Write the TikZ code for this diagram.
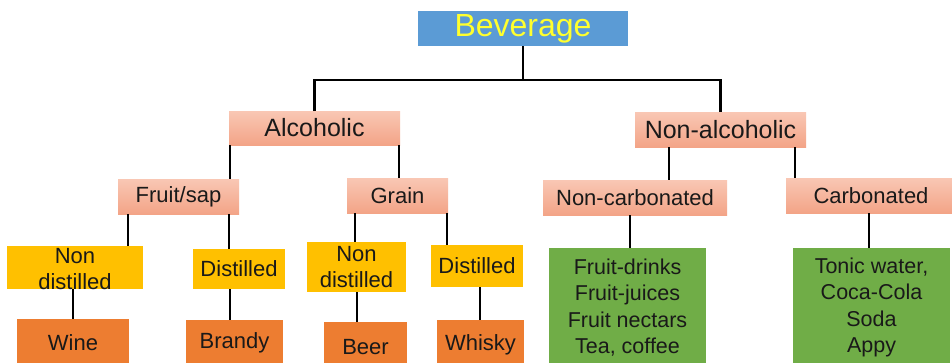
\documentclass[tikz,border=0pt]{standalone}
\usepackage{fontspec}
\setmainfont{Liberation Sans}
\usetikzlibrary{calc}
\definecolor{bevblue}{HTML}{5B9BD5}
\definecolor{bevyel}{HTML}{FFFF2E}
\definecolor{salmtop}{HTML}{F9C7B4}
\definecolor{salmbot}{HTML}{F3A487}
\definecolor{ambery}{HTML}{FFC000}
\definecolor{orng}{HTML}{ED7D31}
\definecolor{grn}{HTML}{70AD47}
\tikzset{
  boxbase/.style={draw=none, inner sep=0pt, outer sep=0pt, anchor=north west},
  bluebox/.style={boxbase, fill=bevblue},
  salmbox/.style={boxbase, top color=salmtop, bottom color=salmbot},
  yelbox/.style={boxbase, fill=ambery},
  orbox/.style={boxbase, fill=orng},
  grbox/.style={boxbase, fill=grn},
  conn/.style={line width=2.6pt, black},
  lbl/.style={inner sep=0pt, align=center, text=black!90},
}
\newcommand\bx[8]{%
  \node[#6, minimum width={(#4-#2)*1pt}, minimum height={(#5-#3)*1pt}] (#1) at (#2,#3) {};
  \node[lbl, #7] (#1-t) at (#1.center) {#8};
}
\newcommand\vcon[3]{%
  \coordinate (tmpx) at (#1,0);
  \draw[conn] (#2.south -| tmpx) -- (#3.north -| tmpx);
}
\begin{document}
\begin{tikzpicture}[x=1pt,y=-1pt]
\useasboundingbox (0,0) rectangle (952,362);
\fill[white] (0,0) rectangle (952,362);
\clip (0,0) rectangle (952,362);
% level 1
\bx{bev}{418}{11}{628}{46}{bluebox}{font=\fontsize{32}{38}\selectfont, text=bevyel}{Beverage}
% level 2
\bx{alc}{229}{111}{400}{145}{salmbox}{font=\fontsize{25}{30}\selectfont}{Alcoholic}
\bx{nonalc}{635}{112}{806}{147}{salmbox}{font=\fontsize{25}{30}\selectfont}{Non-alcoholic}
% level 3
\bx{fs}{118}{179}{239}{214}{salmbox}{font=\fontsize{22}{26}\selectfont}{Fruit/sap}
\bx{grain}{347}{178}{448}{213}{salmbox}{font=\fontsize{22}{26}\selectfont}{Grain}
\bx{noncarb}{543}{180}{727}{215}{salmbox}{font=\fontsize{22}{26}\selectfont}{Non-carbonated}
\bx{carb}{786}{178}{956}{213}{salmbox}{font=\fontsize{22}{26}\selectfont}{Carbonated}
% level 4
\bx{nd1}{7}{246}{143}{289}{yelbox}{font=\fontsize{22}{26}\selectfont, yshift=-1.5pt}{Non\\distilled}
\bx{d1}{193}{249}{285}{289}{yelbox}{font=\fontsize{22}{26}\selectfont}{Distilled}
\bx{nd2}{307}{242}{406}{292}{yelbox}{font=\fontsize{22}{26}\selectfont}{Non\\distilled}
\bx{d2}{431}{245}{523}{287}{yelbox}{font=\fontsize{22}{26}\selectfont}{Distilled}
% level 5
\bx{wine}{17}{319}{129}{367}{orbox}{font=\fontsize{22}{26}\selectfont}{Wine}
\bx{brandy}{186}{320}{283}{366}{orbox}{font=\fontsize{22}{26}\selectfont}{Brandy}
\bx{beer}{324}{322}{407}{372}{orbox}{font=\fontsize{22}{26}\selectfont}{Beer}
\bx{whisky}{437}{320}{524}{370}{orbox}{font=\fontsize{22}{26}\selectfont}{Whisky}
\bx{green1}{549}{248}{706}{367}{grbox}{font=\fontsize{21.5}{26.3}\selectfont}{Fruit-drinks\\Fruit-juices\\Fruit nectars\\Tea, coffee}
\bx{green2}{793}{248}{950}{367}{grbox}{font=\fontsize{21.5}{26.3}\selectfont}{Tonic water,\\Coca-Cola\\Soda\\Appy}
% connectors
\coordinate (hub) at (0,80);
\draw[conn] (bev.south) -- (bev.south |- hub);
\draw[conn] (alc.north) -- (alc.north |- hub) -- (nonalc.north |- hub) -- (nonalc.north);
\vcon{230}{alc}{fs}
\vcon{399}{alc}{grain}
\vcon{128}{fs}{nd1}
\vcon{229}{fs}{d1}
\vcon{355}{grain}{nd2}
\vcon{447}{grain}{d2}
\vcon{73}{nd1}{wine}
\vcon{230}{d1}{brandy}
\vcon{357}{nd2}{beer}
\vcon{480}{d2}{whisky}
\vcon{669}{nonalc}{noncarb}
\vcon{795}{nonalc}{carb}
\vcon{630}{noncarb}{green1}
\vcon{869}{carb}{green2}
\end{tikzpicture}
\end{document}
